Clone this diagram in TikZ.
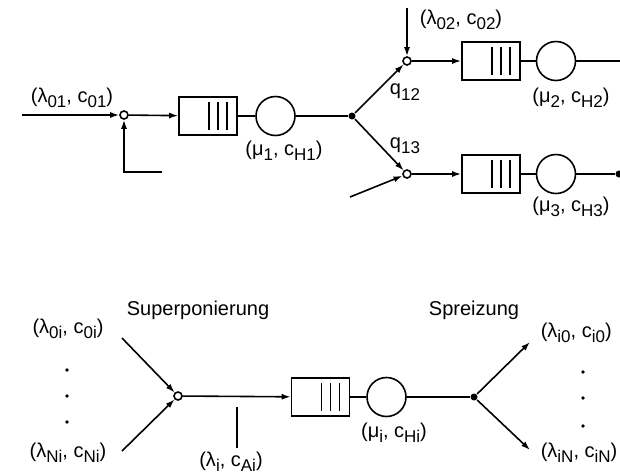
\documentclass[tikz,border=0pt]{standalone}
\usepackage{fontspec}
\setmainfont{Liberation Sans}
\usetikzlibrary{arrows.meta}

% lowered index, slightly smaller
\newcommand\sub[1]{\raisebox{-0.5ex}{\fontsize{8.5}{10}\selectfont #1}}
\newcommand\pair[4]{(#1\sub{#2}, #3\sub{#4})}

\tikzset{
  queue/.style={draw, rectangle, inner sep=0pt, minimum width=29pt, minimum height=19pt,
    path picture={\foreach \dx in {0.5,5,9.5}
      \draw ([xshift=\dx pt, yshift=-2.5pt]path picture bounding box.north)
         -- ([xshift=\dx pt, yshift=2.5pt]path picture bounding box.south);}},
  server/.style={draw, circle, inner sep=0pt, minimum size=19.5pt},
  junc/.style={draw, circle, fill=white, inner sep=0pt, minimum size=4pt},
  split/.style={circle, fill, inner sep=0pt, minimum size=3.5pt},
  flow/.style={-{Latex[length=4.5pt,width=3pt]}},
  lab/.style={inner sep=0pt, font=\fontsize{10}{12}\selectfont}
}

\begin{document}
\begin{tikzpicture}[x=0.5pt, y=-0.5pt, line width=0.8pt]
\useasboundingbox (0,0) rectangle (620,473);

% upper network
\node[junc] (j1) at (124,115) {};
\node[queue] (q1) at (208,116) {};
\node[server] (s1) at (275.5,116) {};
\node[split] (d1) at (352,116) {};
\node[junc] (j2) at (407,61) {};
\node[queue] (q2) at (491,61) {};
\node[server] (s2) at (556,61) {};
\node[junc] (j3) at (407,174) {};
\node[queue] (q3) at (491,174) {};
\node[server] (s3) at (556,174) {};
\node[split] (d3) at (619,174) {};

\coordinate (in1) at (22,115);
\coordinate (fb) at (124,172);
\coordinate (fbend) at (162,172);
\coordinate (in2) at (407,8);
\coordinate (in3) at (350,197);
\coordinate (out2) at (620,61);

\draw[flow] (in1) -- (j1);
\draw[flow] (fbend) -- (fb) -- (j1);
\draw[flow] (j1) -- (q1);
\draw (q1) -- (s1) -- (d1);
\draw[flow] (d1) -- (j2);
\draw[flow] (d1) -- (j3);
\draw[flow] (in2) -- (j2);
\draw[flow] (in3) -- (j3);
\draw[flow] (j2) -- (q2);
\draw (q2) -- (s2) -- (out2);
\draw[flow] (j3) -- (q3);
\draw (q3) -- (s3) -- (d3);

\node[lab] (l01) at (72,98) {\pair{λ}{01}{c}{01}};
\node[lab] (lH1) at (284,151) {\pair{μ}{1}{c}{H1}};
\node[lab] (l02) at (461,20) {\pair{λ}{02}{c}{02}};
\node[lab] (q12) at (405,92) {q\sub{12}};
\node[lab] (q13) at (405,146) {q\sub{13}};
\node[lab] (lH2) at (571,98) {\pair{μ}{2}{c}{H2}};
\node[lab] (lH3) at (571,207) {\pair{μ}{3}{c}{H3}};

% single station
\node[junc] (ji) at (178,396) {};
\node[queue] (qi) at (320.5,397) {};
\node[server] (si) at (386.5,397) {};
\node[split] (di) at (474,397) {};

\coordinate (a0) at (122,338);
\coordinate (aN) at (122,451);
\coordinate (b0) at (530,342);
\coordinate (bN) at (530,450);
\coordinate (t1) at (237,407);
\coordinate (t2) at (237,448);

\draw[flow] (a0) -- (ji);
\draw[flow] (aN) -- (ji);
\draw[flow] (ji) -- (qi);
\draw (qi) -- (si) -- (di);
\draw[flow] (di) -- (b0);
\draw[flow] (di) -- (bN);
\draw (t1) -- (t2);

\node[lab] (sup) at (198,310) {Superponierung};
\node[lab] (spr) at (474,310) {Spreizung};
\node[lab] (l0i) at (68,329) {\pair{λ}{0i}{c}{0i}};
\node[lab] (lNi) at (68,453) {\pair{λ}{Ni}{c}{Ni}};
\node[lab] (lAi) at (231,462) {\pair{λ}{i}{c}{Ai}};
\node[lab] (lHi) at (394,433) {\pair{μ}{i}{c}{Hi}};
\node[lab, anchor=west] (li0) at (540,333) {\pair{λ}{i0}{c}{i0}};
\node[lab, anchor=west] (liN) at (540,453) {\pair{λ}{iN}{c}{iN}};

\foreach \y in {370,396,422} \fill (67,\y) circle (0.9pt);
\foreach \y in {372,398,426} \fill (583,\y) circle (0.9pt);
\end{tikzpicture}
\end{document}
